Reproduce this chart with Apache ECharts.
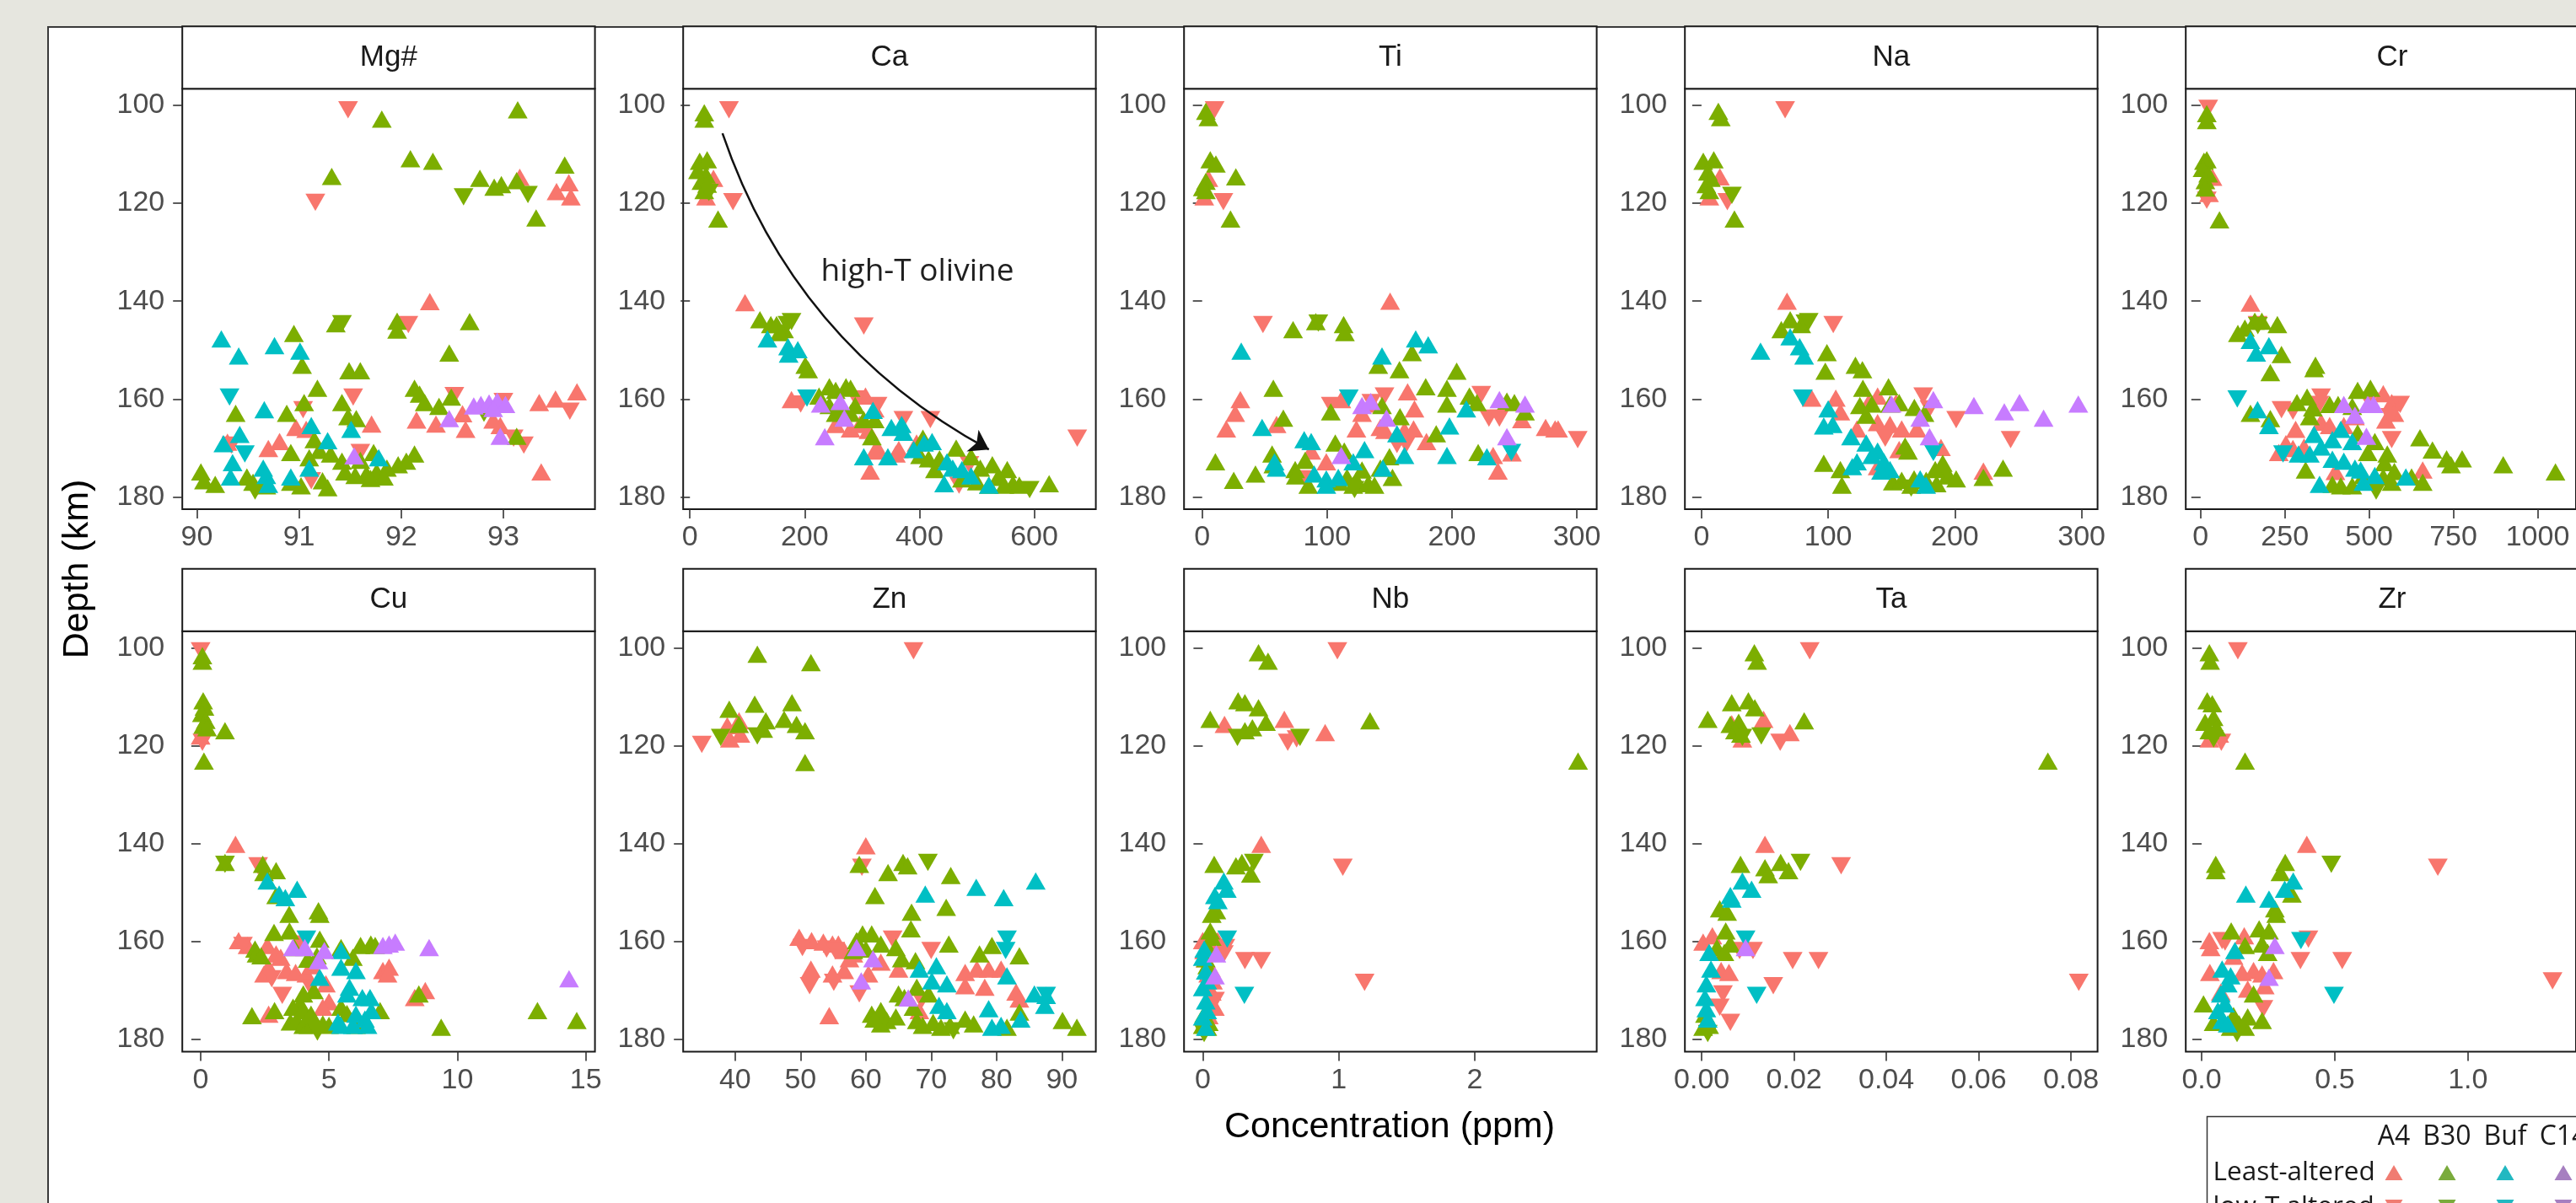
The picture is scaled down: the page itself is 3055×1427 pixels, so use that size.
<!DOCTYPE html>
<html><head><meta charset="utf-8">
<script src="https://cdn.jsdelivr.net/npm/echarts@6/dist/echarts.min.js"></script>
<style>
html,body{margin:0;padding:0;width:3055px;height:1427px;overflow:hidden;background:#e6e6df;}
#slide{position:absolute;left:56px;top:30.6px;width:3100px;height:1500px;background:#fff;border-left:2px solid #3a3a3a;border-top:2px solid #3a3a3a;}
#chart{position:absolute;left:0;top:0;width:3055px;height:1427px;}
</style></head><body><div id="slide"></div><div id="chart"></div>
<script>
// ---------- categories ----------
const elements = ['Mg#','Ca','Ti','Na','Cr','Cu','Zn','Nb','Ta','Zr'];
const groups = ['A4','B30','Buf','C14'];
const alterations = ['Least-altered','low-T altered'];
const depthTicks = [100,120,140,160,180];
// x tick labels per panel
const mgTicks = [90,91,92,93];
const caTicks = [0,200,400,600];
const tiTicks = [0,100,200,300];
const naTicks = [0,100,200,300];
const crTicks = [0,250,500,750,1000];
const cuTicks = [0,5,10,15];
const znTicks = [40,50,60,70,80,90];
const nbTicks = [0,1,2];
const taTicks = [0,0.02,0.04,0.06,0.08];
const zrTicks = [0,0.5,1.0];

// ---------- data: [concentration, depth (km), alteration 0=least,1=low-T] ----------
const mgA4=[[91.48,100.9,1],[91.16,119.8,1],[93.16,114.7,0],[93.52,117.6,0],[93.64,115.8,0],[93.66,118.7,0],[92.28,140.1,0],[92.07,144.8,1],[91.53,159.6,1],[93.35,160.7,0],[93.51,160.0,0],[93.72,158.5,0],[93.65,162.5,1],[92.15,164.3,0],[92.34,165.1,0],[92.52,159.3,1],[92.63,166.2,0],[91.71,165.1,0],[92.97,165.4,0],[93.1,168.0,1],[92.9,164.3,0],[93.2,169.4,1],[93.37,174.9,0],[90.97,165.8,0],[91.07,166.2,0],[91.04,162.2,1],[90.7,170.1,0],[90.81,168.7,0],[90.34,169.4,1],[91.12,176.7,1],[91.6,170.9,1],[90.3,168.8,0],[93.0,160.5,1],[92.6,163.0,0]];
const mgB30=[[91.81,102.8,0],[93.14,100.9,0],[91.32,114.5,0],[92.09,110.9,0],[92.31,111.4,0],[93.6,112.2,0],[92.77,114.9,0],[92.91,116.7,0],[92.98,116.2,0],[93.13,115.4,0],[92.61,118.7,1],[93.24,118.2,1],[93.32,123.0,0],[91.36,144.6,0],[91.42,144.6,1],[91.96,144.1,0],[91.96,145.9,0],[92.67,144.2,0],[90.95,146.6,0],[91.03,153.1,0],[92.47,150.6,0],[91.49,154.2,0],[91.6,154.2,0],[91.18,157.8,0],[92.13,157.8,0],[92.18,159.0,0],[92.23,160.7,0],[92.49,159.6,0],[92.37,161.5,0],[91.05,160.7,0],[91.42,160.7,0],[90.38,162.9,0],[90.88,162.9,0],[91.48,163.6,0],[91.56,164.0,0],[92.81,162.9,1],[91.15,168.3,0],[91.2,170.5,0],[90.92,170.9,0],[91.1,172.0,0],[91.31,171.2,0],[91.42,172.7,0],[91.73,170.9,0],[92.13,171.2,0],[92.05,172.7,0],[91.97,173.4,0],[91.86,174.1,0],[91.76,174.9,0],[91.66,175.3,0],[91.55,175.6,0],[91.45,174.9,0],[90.04,174.9,0],[90.07,176.7,0],[90.18,177.4,0],[90.49,175.9,0],[90.55,177.0,0],[90.68,177.7,0],[90.57,178.8,1],[90.92,177.0,0],[91.02,177.7,0],[91.23,176.7,0],[91.28,178.1,0],[91.7,176.2,0],[91.83,175.9,0],[93.13,167.6,0],[91.6,172.5,0]];
const mgBuf=[[90.24,147.7,0],[90.41,151.2,0],[90.76,149.1,0],[91.01,150.2,0],[90.32,159.6,1],[90.66,162.2,0],[91.12,165.4,0],[91.51,166.2,0],[90.42,167.2,0],[90.26,169.1,0],[90.47,171.2,1],[90.35,173.0,0],[90.33,175.9,0],[90.65,174.1,0],[90.68,175.6,0],[90.7,177.4,0],[90.92,175.9,0],[91.1,174.1,0],[91.28,168.5,0],[91.78,172.0,0]];
const mgC14=[[92.71,161.4,0],[92.78,161.1,0],[92.86,160.8,0],[92.94,160.4,0],[93.02,161.1,0],[92.9,161.9,0],[92.47,164.0,0],[92.97,167.6,0],[91.54,171.6,0]];

const caA4=[[68,100.9,1],[41,114.9,0],[28,118.7,0],[75,119.7,1],[96,140.3,0],[303,145.1,1],[177,160.1,0],[193,161.0,1],[306,159.4,0],[322,162.0,0],[254,165.2,0],[280,166.1,0],[296,165.2,0],[311,166.4,0],[327,161.3,1],[372,164.2,1],[419,164.2,1],[327,170.0,0],[322,170.6,0],[359,171.2,0],[364,170.3,0],[395,169.0,0],[314,174.7,0],[469,177.6,1],[487,173.4,1],[675,168.0,1],[265,163.5,0],[290,160.0,1]];
const caB30=[[25,101.5,0],[25,102.8,0],[17,111.4,0],[30,111.1,0],[14,113.3,0],[28,114.2,0],[20,115.5,0],[30,116.1,0],[25,117.4,0],[33,117.8,1],[49,123.2,0],[122,143.8,0],[141,144.8,0],[151,144.8,0],[164,145.8,0],[177,144.2,1],[170,144.8,1],[156,146.4,0],[201,153.1,0],[206,154.0,0],[225,159.4,0],[243,157.5,0],[254,158.2,0],[272,157.5,0],[280,157.8,0],[243,161.3,0],[259,162.0,0],[269,162.6,0],[288,161.3,0],[280,162.9,0],[254,162.9,0],[303,164.2,0],[322,164.2,0],[317,167.7,0],[406,168.0,0],[464,170.0,0],[401,171.5,0],[416,172.2,0],[435,172.2,0],[427,174.4,0],[490,171.8,0],[506,174.1,0],[527,173.4,0],[553,174.4,0],[537,176.0,0],[563,177.3,0],[474,176.3,0],[500,176.9,0],[521,177.6,0],[548,177.6,0],[574,177.6,0],[592,178.5,1],[626,177.3,0]];
const caBuf=[[135,147.7,0],[171,149.3,0],[188,149.9,0],[172,150.8,0],[204,159.8,1],[319,162.3,0],[351,165.8,0],[369,165.2,0],[372,166.8,0],[303,171.8,0],[345,171.8,0],[390,170.3,0],[408,169.0,0],[422,168.7,0],[448,172.8,0],[458,174.1,0],[443,177.3,0],[474,174.4,0],[490,175.7,0],[521,177.6,0]];
const caC14=[[228,161.0,0],[269,163.9,0],[235,167.7,0],[262,160.5,0]];

const tiA4=[[10,100.9,1],[5,114.9,0],[1.7,118.7,0],[17,119.7,1],[150.5,140.0,0],[48.7,144.8,1],[30.6,160.1,0],[26.5,162.9,0],[19.3,166.1,0],[59.6,165.2,0],[111.4,160.1,0],[103,161.3,1],[128,162.9,0],[136.7,161.0,0],[146,159.4,1],[135.5,160.7,1],[164.5,158.5,0],[170,162.0,0],[223.5,159.1,1],[229.6,163.9,1],[238,163.9,1],[256,164.2,0],[275,165.8,0],[282.6,166.1,0],[285,166.1,0],[300.7,168.3,1],[123.5,166.1,0],[142.7,165.8,0],[146.4,166.4,0],[162,166.4,0],[169.3,166.1,0],[156,169.3,1],[163.3,169.3,1],[179.6,168.7,0],[233,171.5,0],[236.8,174.7,0],[87.3,170.6,0],[99.4,172.8,0],[82.5,176.3,1],[248,171,0]];
const tiB30=[[3,101.2,0],[5,102.5,0],[6.5,111.1,0],[11,112.0,0],[3,115.5,0],[3,117.4,0],[0.5,116.8,0],[27,114.6,0],[22.7,123.2,0],[72.8,145.8,0],[91,144.2,0],[93,144.5,1],[113.3,144.8,0],[114.3,146.4,0],[168,150.5,0],[141,153.1,0],[158,154.0,0],[203.8,154.3,0],[57,157.8,0],[179,157.5,0],[196,157.8,0],[196,161.0,0],[214,159.4,0],[220,160.7,0],[65,163.9,0],[103,162.6,0],[144,161.3,0],[158.4,163.6,0],[244,160.4,0],[250,160.7,0],[258.5,162.6,0],[187.4,167.1,0],[221,170.9,0],[10.6,172.8,0],[25.3,176.6,0],[42.7,175.3,0],[56,171.2,0],[57,173.4,0],[74.5,174.4,0],[75,175.7,0],[85,177.6,0],[82.5,172.5,0],[106.6,169.0,0],[113.8,170.6,0],[116,176.0,0],[123.5,176.6,0],[133,177.3,0],[138,177.6,0],[142.7,174.1,0],[121,177.6,0],[122,178.5,1],[150,171.8,0],[152.4,176.0,0],[128,174.5,0],[110,177.0,0]];
const tiBuf=[[31.3,150.2,0],[171,147.7,0],[181,148.9,0],[144,151.2,0],[48,165.8,0],[117.4,159.8,1],[211.5,162.0,0],[156,167.1,0],[198,165.5,0],[162,171.5,0],[196,171.5,0],[228,171.8,0],[247.6,170.9,1],[58,172.8,0],[59.6,174.1,0],[81.7,168.3,0],[87.3,168.7,0],[89.7,175.3,0],[99.4,176.3,0],[99.4,177.6,0],[109,176.0,0],[121,172.8,0],[130,170.3,0],[144.7,174.1,0]];
const tiC14=[[128,161.3,0],[147.6,163.9,0],[238,160.1,0],[258.5,161.0,0],[244,167.7,0],[111.4,171.5,0],[135,160.5,0]];

const naA4=[[66,100.9,1],[14.5,114.6,0],[6.2,118.7,0],[20.4,119.7,1],[67.5,140.0,0],[104,144.8,1],[87,159.8,0],[106,159.8,0],[132,160.7,0],[139,159.4,0],[153.6,160.7,0],[175,159.4,1],[109.6,162.6,0],[201,164.2,1],[244,168.3,1],[139,164.8,0],[148.8,165.2,0],[158,166.1,0],[170,166.1,0],[122.7,166.1,0],[156,170.3,0],[189,169.9,0],[139,173.8,0],[222.5,174.7,0],[145,168,1],[180,162,1]];
const naB30=[[13.3,101.2,0],[15.2,102.5,0],[1.4,111.4,0],[9.7,111.1,0],[5,113.6,0],[7.4,114.9,0],[3.8,116.2,0],[6.2,117.4,0],[24,118.4,1],[26,123.2,0],[63,145.8,0],[70,143.8,0],[78.7,144.8,0],[82,144.5,1],[84.6,144.2,1],[99,150.5,0],[97.7,154.3,0],[121.5,153.1,0],[127,154.0,0],[127.4,157.8,0],[147.6,157.5,0],[125,161.3,0],[134.5,161.0,0],[148.8,161.0,0],[156,160.7,0],[168,161.7,0],[176,162.9,0],[130,163.3,0],[160.7,169.6,0],[163,170.6,0],[96.5,173.1,0],[109.6,174.4,0],[110.8,177.6,0],[222.5,176.0,0],[238,174.1,0],[151,176.9,0],[158,176.6,0],[165.5,177.6,0],[167.8,176.3,0],[177.3,176.6,0],[185.6,177.3,0],[191.6,174.1,0],[194,175.7,0],[201,176.3,0],[165.5,178.2,1],[184.5,174.4,0],[190.4,173.1,0]];
const naBuf=[[46.6,150.2,0],[70,147.3,0],[77.5,149.3,0],[81,151.2,0],[80,159.8,1],[100,162.0,0],[96.5,165.5,0],[103.6,165.2,0],[118,167.7,0],[130,169.0,0],[139,170.6,0],[122.7,172.8,0],[134.5,171.5,0],[183,170.9,1],[119,173.8,0],[144,172.8,0],[148.8,174.4,0],[141.7,174.7,0],[172.6,176.3,0],[177.3,177.6,0]];
const naC14=[[183,160.1,0],[215,161.3,0],[239,162.6,0],[251,160.7,0],[297.4,161.0,0],[270,163.9,0],[172.6,163.9,0],[180,167.7,0],[150,161,0]];

const crA4=[[22.6,100.6,1],[35.2,114.7,0],[18.4,119.4,1],[148,140.4,0],[169,144.8,1],[240,162.2,1],[274,162.5,1],[232,170.9,0],[253,169.1,0],[282,166.2,0],[274,170.1,0],[307,169.8,0],[357.6,159.6,1],[353,161.1,1],[542,158.9,0],[567,160.7,0],[575,162.9,0],[550,164.3,0],[592,161.1,1],[563,163.6,1],[567,168.3,1],[500,160.4,1],[357.6,164.7,0],[383,165.4,0],[425,165.4,0],[458,163.6,0],[400,174.8,0],[659,174.5,0],[25,118,0]];
const crB30=[[18.4,101.7,0],[18.4,103.1,0],[10,111.4,0],[18.4,111.1,0],[5.9,112.9,0],[22.6,114.0,0],[14.2,115.4,0],[14.2,116.9,0],[56,123.4,0],[110.6,146.6,0],[131.5,145.5,0],[160.8,144.1,0],[181.7,144.1,0],[227.8,144.8,0],[240,150.9,0],[206.9,154.6,0],[336.7,153.8,0],[340.9,153.1,0],[148,162.9,0],[207,164.0,0],[286,160.7,0],[316,159.6,0],[333,161.8,0],[324,163.6,0],[383,161.1,0],[408,161.1,0],[450,161.5,0],[466,158.2,0],[504,157.8,0],[466,166.9,0],[517,168.7,0],[496,170.9,0],[554,171.2,0],[546,173.0,0],[651,167.9,0],[688,170.4,0],[730,172.2,0],[776,172.2,0],[743,173.4,0],[898,173.4,0],[1053,174.9,0],[311.6,174.5,0],[391,177.4,0],[416,177.7,0],[450,177.7,0],[483,175.6,0],[542,175.9,0],[567,177.0,0],[626,175.9,0],[659,177.0,0],[575,174.8,0],[521,178.8,1],[170,145,1]];
const crBuf=[[148,148.0,0],[165,150.6,0],[202.7,149.1,0],[108.9,160.0,1],[169,162.2,0],[202.7,165.4,0],[336.7,167.2,0],[416,166.2,0],[450,168.7,0],[391,168.3,0],[290.6,171.2,0],[324,171.2,0],[357.6,169.8,0],[391,172.3,0],[425,172.7,0],[458,174.1,0],[475,174.5,0],[244.6,171.2,1],[353,177.4,0],[483,177.0,0],[517,175.6,0],[609,175.9,0]];
const crC14=[[425,161.1,0],[458,163.3,0],[496,161.1,0],[513,161.1,0],[492,167.6,0]];

const cuA4=[[0,100.6,1],[0,118.0,0],[0.07,119.3,1],[1.36,140.1,0],[2.24,144.5,1],[1.48,159.8,0],[1.83,160.8,0],[1.65,160.8,1],[2.6,160.8,0],[2.94,162.5,0],[3.12,163.2,0],[2.65,165.2,0],[2.47,166.6,0],[2.77,167.6,1],[3.35,165.9,0],[3.7,166.3,0],[4.12,166.6,0],[4.35,164.9,0],[4.88,168.6,0],[5.0,172.3,0],[3.18,171.0,1],[7.1,165.9,0],[7.34,165.2,0],[7.28,166.6,0],[4.76,173.4,0],[2.65,174.8,0],[8.34,171.4,0],[8.75,170.0,0],[3.9,160.5,1],[4.3,169.5,1]];
const cuB30=[[0.07,101.6,0],[0.07,102.7,0],[0.1,110.8,0],[0.15,112.1,0],[0.05,113.4,0],[0.2,114.8,0],[0.1,115.8,0],[0.25,116.3,0],[0.95,116.9,0],[0.13,123.1,0],[0.95,143.8,0],[0.95,144.2,1],[2.42,144.2,0],[2.94,145.5,0],[2.47,145.9,0],[2.94,150.6,0],[4.59,153.7,0],[4.64,154.4,0],[3.45,154.4,0],[2.86,158.1,0],[3.46,157.8,0],[2.12,161.5,0],[2.18,162.5,0],[2.36,162.9,0],[3.65,161.2,0],[4.17,163.6,0],[4.53,162.9,0],[4.64,159.5,0],[5.47,161.2,0],[5.93,163.2,0],[6.23,160.8,0],[6.63,160.5,0],[6.8,160.8,0],[4.41,170.0,0],[4.0,170.7,0],[3.88,172.7,0],[5.47,173.4,0],[5.7,174.7,0],[2.0,175.1,0],[2.88,174.1,0],[3.5,176.4,0],[3.75,176.1,0],[4.0,177.1,0],[4.2,177.1,0],[4.4,176.1,0],[4.76,176.8,0],[5.0,177.1,0],[3.6,173.4,0],[3.95,174.1,0],[4.3,174.8,0],[4.55,178.5,1],[6.05,177.1,0],[6.99,174.1,0],[8.5,170.7,0],[9.37,177.5,0],[13.12,174.1,0],[14.65,176.1,0]];
const cuBuf=[[2.6,147.6,0],[3.06,150.3,0],[3.3,151.0,0],[3.76,149.3,0],[4.12,159.5,1],[4.64,167.3,0],[5.47,161.8,0],[5.47,165.2,0],[6.05,165.9,0],[5.8,169.3,0],[5.7,170.7,0],[6.3,171.4,0],[6.6,171.4,0],[6.65,174.1,0],[6.05,174.8,0],[6.4,175.8,0],[6.5,177.1,0],[5.93,177.1,0],[5.35,176.4,0],[5.47,177.1,0]];
const cuC14=[[3.59,161.2,0],[4.06,161.2,0],[4.59,163.9,0],[4.82,161.8,0],[7.1,160.8,0],[7.34,160.5,0],[7.58,160.1,0],[8.9,161.2,0],[14.35,167.6,0]];

const znA4=[[67.3,100.6,1],[38.8,115.9,0],[40.6,114.9,0],[39.2,118.6,0],[40.8,117.6,0],[34.9,119.7,1],[60,140.4,0],[59.4,144.8,1],[49.8,159.1,0],[51.7,159.8,0],[53.5,160.1,0],[54.9,160.5,0],[55.8,160.5,0],[56.7,161.8,0],[58.1,162.5,0],[50.3,161.2,1],[54.0,161.5,1],[55.3,161.8,1],[64.1,159.5,1],[70,161.8,1],[62.3,164.2,0],[65.0,165.6,0],[60.4,166.6,0],[56.7,165.9,0],[54.9,166.6,0],[51.6,165.6,0],[51.4,169.0,1],[55.1,168.3,1],[59.0,170.7,1],[54.4,175.1,0],[75.2,166.3,0],[77,165.6,0],[78.8,165.6,0],[80.7,165.6,0],[75.2,169.0,0],[78.2,169.3,0],[83,170.3,0],[83.5,171.7,0],[68.2,174.1,0],[68.5,172,1],[57.5,163.5,0]];
const znB30=[[43.4,101.3,0],[51.6,103.0,0],[39.1,112.5,0],[43.0,111.5,0],[48.7,111.2,0],[40.6,115.6,0],[37.8,118.3,1],[44.7,114.9,0],[44.3,116.6,0],[47.5,114.6,0],[49.4,115.6,0],[50.7,116.9,0],[43.4,118.0,1],[50.7,123.4,0],[59.0,144.2,0],[65.7,143.8,0],[66.4,144.5,0],[69.5,143.8,1],[63.4,145.9,0],[73.0,146.5,0],[61.4,150.6,0],[67,154.0,0],[72.3,153.0,0],[66.9,157.4,0],[59.5,158.4,0],[60.9,158.4,0],[58.6,159.8,0],[62.3,160.5,0],[60,161.5,0],[58.1,161.8,0],[64.6,161.2,0],[65.5,163.5,0],[67.6,163.9,0],[72.7,160.5,0],[77.4,162.5,0],[79.3,160.8,0],[83.5,162.9,0],[83.5,174.4,0],[81.6,177.5,0],[90.1,176.1,0],[92.3,177.5,0],[60.9,174.8,0],[62.3,174.1,0],[63.2,176.1,0],[64.6,175.4,0],[65.0,170.7,0],[65.9,171.4,0],[67.3,173.4,0],[67.8,176.1,0],[68.7,177.1,0],[67.8,169.3,0],[69.6,170.7,0],[70.3,176.5,0],[71.5,177.5,0],[72.9,177.1,0],[75.2,175.8,0],[76.5,176.8,0],[62.3,176.8,0],[61.3,175.8,0],[73.4,178.2,1]];
const znBuf=[[76.9,148.9,0],[69.1,150.3,0],[81.1,151.0,0],[86,147.6,0],[68.2,165.6,0],[70.8,164.9,0],[70.1,168.0,0],[72.4,168.6,0],[81.6,159.5,1],[81.4,161.8,1],[81.6,167.0,0],[85.8,170.7,0],[87.6,171.0,0],[87.6,171.0,1],[87.4,173.0,0],[78.8,173.7,0],[79.3,177.5,0],[80.7,177.1,0],[83.7,175.8,0],[72.4,174.1,0],[71.2,173.0,0]];
const znC14=[[58.6,161.2,0],[61.1,163.5,0],[59.3,168.0,0],[66.5,171.5,0]];

const nbA4=[[0.99,100.6,1],[0.16,115.6,0],[0.6,114.6,0],[0.625,119.3,1],[0.69,118.6,1],[0.9,117.3,0],[0.43,140.1,0],[1.03,144.8,1],[0.0,159.8,0],[0.11,159.8,0],[0.01,161.8,0],[0.166,161.2,1],[0.155,162.5,1],[0.31,163.9,1],[0.43,163.9,1],[1.19,168.3,1],[0.04,166.6,0],[0.075,168.0,0],[0.066,170.3,0],[0.089,173.4,0],[0.044,175.1,0],[0.02,163.5,0],[0.06,165.5,0],[0.09,172,1]];
const nbB30=[[0.41,101.0,0],[0.48,102.7,0],[0.26,110.8,0],[0.31,111.2,0],[0.41,112.2,0],[0.055,114.6,0],[0.465,115.2,0],[0.31,116.9,0],[0.365,116.3,0],[0.255,118.3,1],[0.715,118.3,1],[1.23,114.9,0],[2.76,123.1,0],[0.084,144.2,0],[0.244,144.5,0],[0.288,143.8,0],[0.376,143.8,1],[0.354,146.2,0],[0.1,153.7,0],[0.066,154.4,0],[0.055,157.8,0],[0.066,159.1,0],[0.044,161.5,0],[0.022,163.5,0],[0.033,164.9,0],[0.01,174.8,0],[0.022,176.1,0],[0.033,177.5,0],[0.0,177.1,0],[0.044,176.5,0],[0.01,178.8,1]];
const nbBuf=[[0.155,147.6,0],[0.177,149.3,0],[0.089,150.6,0],[0.111,151.6,0],[0.18,159.5,1],[0.306,171.0,1],[0.011,161.5,0],[0.0,163.2,0],[0.022,166.0,0],[0.033,168.0,0],[0.0,169.4,0],[0.022,172.1,0],[0.033,174.1,0],[0.0,175.4,0],[0.022,177.5,0]];
const nbC14=[[0.1,162.5,0],[0.09,167,0]];

const taA4=[[0.0234,100.6,1],[0.0134,114.6,0],[0.0088,118.6,0],[0.0191,117.3,0],[0.017,119.3,1],[0.0137,140.1,0],[0.0302,144.5,1],[0.0003,160.1,0],[0.0023,158.8,0],[0.0082,161.8,1],[0.0111,161.8,1],[0.0197,163.9,1],[0.0253,163.9,1],[0.0155,169.0,1],[0.0817,168.3,1],[0.0042,165.9,0],[0.0059,166.3,0],[0.0046,170.7,1],[0.0039,173.4,1],[0.0062,176.5,1],[0.003,162,0],[0.0065,115.5,0]];
const taB30=[[0.0114,101.0,0],[0.0120,102.7,0],[0.0065,111.2,0],[0.0101,110.8,0],[0.0115,112.2,0],[0.0013,114.6,0],[0.0062,115.6,0],[0.008,115.2,0],[0.0222,114.9,0],[0.0072,116.9,0],[0.0085,117.6,0],[0.0088,118.3,1],[0.0129,118.0,1],[0.075,123.1,0],[0.0084,144.2,0],[0.0137,144.9,0],[0.0144,146.3,0],[0.0171,143.8,0],[0.0188,145.5,0],[0.0214,143.8,1],[0.0039,153.3,0],[0.0055,154.0,0],[0.0052,157.8,0],[0.0062,160.5,0],[0.0033,161.2,0],[0.0049,162.2,0],[0.0007,174.8,0],[0.001,176.5,0],[0.0003,177.5,0],[0.0016,177.1,0],[0.0013,178.8,1]];
const taBuf=[[0.0088,147.6,0],[0.0108,149.3,0],[0.0062,150.6,0],[0.0065,151.3,0],[0.0095,159.5,1],[0.0119,171.0,1],[0.0016,162.2,0],[0.002,165.6,0],[0.001,168.6,0],[0.0007,171.4,0],[0.001,173.7,0],[0.0013,175.8,0]];
const taC14=[[0.0095,161.2,0]];

const zrA4=[[0.136,100.6,1],[0.029,118.6,0],[0.066,117.6,0],[0.074,119.3,1],[0.395,140.1,0],[0.887,144.8,1],[1.318,168.0,1],[0.029,159.8,0],[0.034,161.2,0],[0.16,158.8,0],[0.031,166.3,0],[0.077,159.8,1],[0.088,160.1,1],[0.401,159.5,1],[0.371,163.9,1],[0.528,163.9,1],[0.152,166.3,0],[0.195,165.9,0],[0.227,166.6,0],[0.27,165.9,0],[0.072,170.3,0],[0.173,169.7,0],[0.237,169.0,0],[0.232,173.7,1],[0.12,163,0]];
const zrB30=[[0.029,101.0,0],[0.032,102.7,0],[0.021,110.8,0],[0.04,111.4,0],[0.013,115.2,0],[0.045,114.2,0],[0.056,116.3,0],[0.029,116.9,0],[0.045,118.6,1],[0.163,123.1,0],[0.487,144.2,1],[0.053,144.2,0],[0.053,145.5,0],[0.314,143.8,0],[0.296,145.9,0],[0.339,150.3,0],[0.275,153.3,0],[0.28,154.4,0],[0.111,157.8,0],[0.216,157.4,0],[0.253,157.8,0],[0.163,160.8,0],[0.227,160.5,0],[0.248,162.2,0],[0.007,172.7,0],[0.195,170.7,0],[0.045,176.5,0],[0.12,175.1,0],[0.141,176.8,0],[0.163,177.5,0],[0.109,177.5,0],[0.227,176.1,0],[0.173,175.4,0],[0.133,178.8,1]];
const zrBuf=[[0.344,147.6,0],[0.312,149.3,0],[0.166,150.3,0],[0.253,151.3,0],[0.373,159.8,1],[0.497,171.0,1],[0.125,161.8,0],[0.077,165.6,0],[0.109,167.0,0],[0.098,168.6,0],[0.072,170.7,0],[0.088,172.7,0],[0.061,174.1,0],[0.077,176.1,0],[0.098,176.8,0]];
const zrC14=[[0.275,160.8,0],[0.253,167.3,0]];

// annotation arrow (Ca panel, data coords: start, end)
const arrowPath = [[56.7,105.7],[521,170.3]];

// ---------- assembly ----------
const panelData = [
  [mgA4,mgB30,mgBuf,mgC14],[caA4,caB30,caBuf,caC14],[tiA4,tiB30,tiBuf,tiC14],[naA4,naB30,naBuf,naC14],[crA4,crB30,crBuf,crC14],
  [cuA4,cuB30,cuBuf,cuC14],[znA4,znB30,znBuf,znC14],[nbA4,nbB30,nbBuf,nbC14],[taA4,taB30,taBuf,taC14],[zrA4,zrB30,zrBuf,zrC14]
];
const panelTicks = [mgTicks,caTicks,tiTicks,naTicks,crTicks,cuTicks,znTicks,nbTicks,taTicks,zrTicks];
const panelRange = [[89.858,93.896],[-11.8,707.4],[-14.5,315.9],[-13.1,312.6],[-44.0,1113.9],
                    [-0.713,15.36],[32.05,95.2],[-0.1377,2.897],[-0.00365,0.08577],[-0.0596,1.406]];
const labelDigits = [0,0,0,0,0,0,0,0,2,1];
const COLORS = ['#F8766D','#7CAE00','#00BFC4','#C77CFF'];
const LEG_COLORS = ['#f07c72','#7aab3c','#22b8c1','#a67fc0'];

const PW = 489.4, PH = 498.8, COL0 = 216.2, COLSTEP = 594, ROWTOP = [105.2, 748.8], STRIP = 74;
const AXFONT = "'Liberation Sans', Arial, sans-serif";
const SEGFONT = "'Open Sans', 'Noto Sans', sans-serif";

const grids = [], xAxes = [], yAxes = [], series = [], graphics = [];
elements.forEach((el, i) => {
  const col = i % 5, row = Math.floor(i / 5);
  const left = COL0 + col * COLSTEP, top = ROWTOP[row];
  grids.push({left, top, width: PW, height: PH, show: true, borderColor: '#1a1a1a', borderWidth: 2, backgroundColor: 'rgba(0,0,0,0)'});
  const d = labelDigits[i];
  xAxes.push({
    gridIndex: i, type: 'value', min: panelRange[i][0], max: panelRange[i][1],
    axisLine: {show: false}, splitLine: {show: false},
    axisTick: {show: true, length: 11, customValues: panelTicks[i], lineStyle: {color: '#333', width: 1.6}},
    axisLabel: {show: true, customValues: panelTicks[i], fontSize: 34, color: '#4d4d4d', fontFamily: AXFONT, margin: 17,
      formatter: v => d ? Number(v).toFixed(d) : String(Math.round(v))}
  });
  yAxes.push({
    gridIndex: i, type: 'value', inverse: true, min: 96.6, max: 182.5,
    axisLine: {show: false}, splitLine: {show: false},
    axisTick: {show: true, length: 11, customValues: depthTicks, lineStyle: {color: '#333', width: 1.6}},
    axisLabel: {show: true, customValues: depthTicks, fontSize: 34, color: '#4d4d4d', fontFamily: AXFONT, margin: 21}
  });
  // strip header
  graphics.push({type: 'rect', shape: {x: left, y: top - STRIP, width: PW, height: STRIP},
    style: {fill: '#fff', stroke: '#1a1a1a', lineWidth: 2}, z: 5});
  graphics.push({type: 'text', x: left + PW / 2, y: top - STRIP / 2, z: 6,
    style: {text: el, fontSize: 35, fontFamily: AXFONT, fill: '#1a1a1a', textAlign: 'center', textVerticalAlign: 'middle'}});
  // points
  panelData[i].forEach((arr, g) => {
    [0, 1].forEach(alt => {
      const pts = arr.filter(p => p[2] === alt).map(p => [p[0], p[1]]);
      if (!pts.length) return;
      series.push({type: 'scatter', xAxisIndex: i, yAxisIndex: i, data: pts, symbol: 'triangle',
        symbolSize: [23.5, 20.5], symbolRotate: alt ? 180 : 0, itemStyle: {color: COLORS[g], opacity: 1},
        silent: true, animation: false, z: 3});
    });
  });
});

// high-T olivine arrow in Ca panel
series.push({type: 'lines', coordinateSystem: 'cartesian2d', xAxisIndex: 1, yAxisIndex: 1, silent: true, animation: false, z: 4,
  symbol: ['none', 'arrow'], symbolSize: 22,
  lineStyle: {color: '#111', width: 2.5, curveness: -0.195, opacity: 1},
  data: [{coords: arrowPath}]});
graphics.push({type: 'text', x: 1088, y: 322, z: 6,
  style: {text: 'high-T olivine', fontSize: 37, fontFamily: SEGFONT, fill: '#1f1f1f', textAlign: 'center', textVerticalAlign: 'middle'}});

// axis titles
graphics.push({type: 'text', x: 1648, y: 1337, z: 6,
  style: {text: 'Concentration (ppm)', fontSize: 43, fontFamily: AXFONT, fill: '#000', textAlign: 'center', textVerticalAlign: 'middle'}});
graphics.push({type: 'text', x: 92, y: 675, rotation: Math.PI / 2, z: 6,
  style: {text: 'Depth (km)', fontSize: 43, fontFamily: AXFONT, fill: '#000', textAlign: 'center', textVerticalAlign: 'middle'}});

// legend (2-D: alteration x site)
const LX = 2617.5, LY = 1324.6;
graphics.push({type: 'rect', shape: {x: LX, y: LY, width: 700, height: 300}, style: {fill: '#fff', stroke: '#333', lineWidth: 1.5}, z: 5});
const legCols = [2839, 2902, 2971, 3040];
groups.forEach((g, k) => {
  graphics.push({type: 'text', x: legCols[k], y: 1349, z: 6,
    style: {text: g, fontSize: 32, fontFamily: SEGFONT, fill: '#1a1a1a', textAlign: 'center', textVerticalAlign: 'middle'}});
});
const legRows = [1391, 1432];
alterations.forEach((a, r) => {
  graphics.push({type: 'text', x: 2624.6, y: legRows[r], z: 6,
    style: {text: a, fontSize: 31.5, fontFamily: SEGFONT, fill: '#1a1a1a', textAlign: 'left', textVerticalAlign: 'middle'}});
  groups.forEach((g, k) => {
    const cx = legCols[k], cy = legRows[r], w = 10.5, h = 9;
    const pts = r === 0 ? [[cx, cy - h], [cx + w, cy + h], [cx - w, cy + h]] : [[cx - w, cy - h], [cx + w, cy - h], [cx, cy + h]];
    graphics.push({type: 'polygon', shape: {points: pts}, style: {fill: LEG_COLORS[k]}, z: 6});
  });
});

const chart = echarts.init(document.getElementById('chart'), null, {renderer: 'canvas', width: 3055, height: 1427});
chart.setOption({
  backgroundColor: 'rgba(0,0,0,0)',
  animation: false,
  grid: grids, xAxis: xAxes, yAxis: yAxes, series: series, graphic: {elements: graphics}
});
</script></body></html>
